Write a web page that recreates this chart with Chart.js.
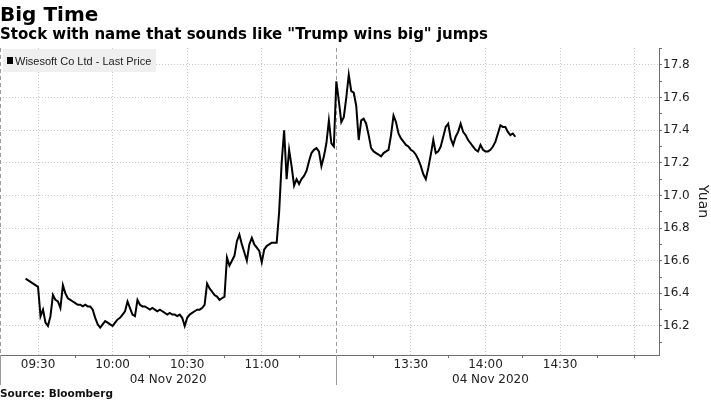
<!DOCTYPE html>
<html>
<head>
<meta charset="utf-8">
<title>Big Time</title>
<script src="https://cdn.jsdelivr.net/npm/chart.js@4/dist/chart.umd.min.js"></script>
<style>
  html, body { margin: 0; padding: 0; background: #fff; }
  #chart { display: block; }
</style>
</head>
<body>
<canvas id="chart" width="711" height="400"></canvas>
<script>
// Wisesoft Co Ltd, 04 Nov 2020, one price per minute (09:25 is the opening auction)
var times = [
    '09:25',
    '09:30', '09:31', '09:32', '09:33', '09:34', '09:35', '09:36', '09:37', '09:38', '09:39',
    '09:40', '09:41', '09:42', '09:43', '09:44', '09:45', '09:46', '09:47', '09:48', '09:49',
    '09:50', '09:51', '09:52', '09:53', '09:54', '09:55', '09:56', '09:57', '09:58', '09:59',
    '10:00', '10:01', '10:02', '10:03', '10:04', '10:05', '10:06', '10:07', '10:08', '10:09',
    '10:10', '10:11', '10:12', '10:13', '10:14', '10:15', '10:16', '10:17', '10:18', '10:19',
    '10:20', '10:21', '10:22', '10:23', '10:24', '10:25', '10:26', '10:27', '10:28', '10:29',
    '10:30', '10:31', '10:32', '10:33', '10:34', '10:35', '10:36', '10:37', '10:38', '10:39',
    '10:40', '10:41', '10:42', '10:43', '10:44', '10:45', '10:46', '10:47', '10:48', '10:49',
    '10:50', '10:51', '10:52', '10:53', '10:54', '10:55', '10:56', '10:57', '10:58', '10:59',
    '11:00', '11:01', '11:02', '11:03', '11:04', '11:05', '11:06', '11:07', '11:08', '11:09',
    '11:10', '11:11', '11:12', '11:13', '11:14', '11:15', '11:16', '11:17', '11:18', '11:19',
    '11:20', '11:21', '11:22', '11:23', '11:24', '11:25', '11:26', '11:27', '11:28', '11:29',
    '13:00', '13:01', '13:02', '13:03', '13:04', '13:05', '13:06', '13:07', '13:08', '13:09',
    '13:10', '13:11', '13:12', '13:13', '13:14', '13:15', '13:16', '13:17', '13:18', '13:19',
    '13:20', '13:21', '13:22', '13:23', '13:24', '13:25', '13:26', '13:27', '13:28', '13:29',
    '13:30', '13:31', '13:32', '13:33', '13:34', '13:35', '13:36', '13:37', '13:38', '13:39',
    '13:40', '13:41', '13:42', '13:43', '13:44', '13:45', '13:46', '13:47', '13:48', '13:49',
    '13:50', '13:51', '13:52', '13:53', '13:54', '13:55', '13:56', '13:57', '13:58', '13:59',
    '14:00', '14:01', '14:02', '14:03', '14:04', '14:05', '14:06', '14:07', '14:08', '14:09',
    '14:10', '14:11', '14:12'
];

var prices = [
    16.49,
    16.44, 16.26, 16.30, 16.22, 16.20, 16.26, 16.39, 16.36, 16.35, 16.31,
    16.45, 16.40, 16.37, 16.36, 16.35, 16.34, 16.33, 16.33, 16.32, 16.33,
    16.32, 16.32, 16.30, 16.25, 16.21, 16.19, 16.21, 16.23, 16.22, 16.21,
    16.20, 16.22, 16.24, 16.25, 16.27, 16.29, 16.35, 16.31, 16.27, 16.26,
    16.36, 16.33, 16.32, 16.32, 16.31, 16.30, 16.31, 16.30, 16.29, 16.30,
    16.29, 16.28, 16.27, 16.28, 16.27, 16.27, 16.26, 16.27, 16.25, 16.20,
    16.25, 16.27, 16.28, 16.29, 16.30, 16.30, 16.31, 16.33, 16.46, 16.43,
    16.41, 16.39, 16.38, 16.36, 16.37, 16.38, 16.62, 16.57, 16.60, 16.63,
    16.72, 16.76, 16.70, 16.65, 16.60, 16.70, 16.74, 16.70, 16.68, 16.66,
    16.59, 16.67, 16.69, 16.70, 16.71, 16.71, 16.71, 16.90, 17.20, 17.40,
    17.10, 17.28, 17.18, 17.06, 17.10, 17.07, 17.10, 17.12, 17.15, 17.21,
    17.26, 17.28, 17.29, 17.27, 17.18, 17.24, 17.32, 17.46, 17.32, 17.30,
    17.70, 17.58, 17.45, 17.48, 17.60, 17.74, 17.64, 17.63, 17.55, 17.34,
    17.46, 17.47, 17.44, 17.37, 17.29, 17.27, 17.26, 17.25, 17.24, 17.26,
    17.27, 17.28, 17.37, 17.49, 17.45, 17.38, 17.35, 17.33, 17.31, 17.30,
    17.28, 17.27, 17.25, 17.22, 17.18, 17.13, 17.10, 17.17, 17.25, 17.34,
    17.26, 17.27, 17.30, 17.36, 17.42, 17.44, 17.35, 17.31, 17.36, 17.39,
    17.44, 17.39, 17.37, 17.34, 17.32, 17.30, 17.28, 17.27, 17.31, 17.28,
    17.27, 17.27, 17.28, 17.30, 17.33, 17.38, 17.43, 17.42, 17.42, 17.39,
    17.37, 17.38, 17.36
];

var xLabelTimes = ['09:30', '10:00', '10:30', '11:00', '13:30', '14:00', '14:30'];
var xMinorTimes = ['09:45', '10:15', '10:45', '11:15', '13:15', '13:45', '14:15', '14:45', '15:00'];
var yLabelValues = [16.2, 16.4, 16.6, 16.8, 17.0, 17.2, 17.4, 17.6, 17.8];
var yMinorValues = [16.1, 16.3, 16.5, 16.7, 16.9, 17.1, 17.3, 17.5, 17.7, 17.9];
var dateLabels = ['04 Nov 2020', '04 Nov 2020'];

// trading minutes since 09:30, lunch break (11:30-13:00) removed
function toAxis(t) {
    var p = t.split(':').map(Number);
    var mins = p[0] * 60 + p[1];
    return mins < 12 * 60 ? mins - 570 : mins - 780 + 120;
}

var xLabelPos = xLabelTimes.map(toAxis);
var xGridPos = xLabelPos.concat([toAxis('15:00')]);
var xAllTicks = xLabelPos.concat(xMinorTimes.map(toAxis)).sort(function (a, b) { return a - b; });
var yAllTicks = yLabelValues.concat(yMinorValues).sort(function (a, b) { return a - b; });

function isYLabel(v) {
    return yLabelValues.some(function (l) { return Math.abs(l - v) < 0.001; });
}

var GRID = '#c9c9c9';
var AXIS = '#6e6e6e';

var extras = {
    id: 'extras',
    beforeDatasetsDraw: function (chart) {
        var ctx = chart.ctx, a = chart.chartArea, x = chart.scales.x;
        var xs = [a.left + 0.5, Math.round(x.getPixelForValue(toAxis('13:00'))) + 0.5];
        ctx.save();
        ctx.strokeStyle = '#9c9c9c';
        ctx.lineWidth = 1;
        xs.forEach(function (px) {
            ctx.setLineDash([4, 3]);
            ctx.beginPath(); ctx.moveTo(px, a.top); ctx.lineTo(px, a.bottom); ctx.stroke();
            ctx.setLineDash([]);
            ctx.beginPath(); ctx.moveTo(px, a.bottom); ctx.lineTo(px, a.bottom + 30); ctx.stroke();
        });
        ctx.restore();
    },
    afterDraw: function (chart) {
        var ctx = chart.ctx, a = chart.chartArea, x = chart.scales.x;
        ctx.save();
        // legend box
        ctx.fillStyle = '#efefef';
        ctx.fillRect(a.left + 3, a.top + 1, 153, 23);
        ctx.fillStyle = '#000';
        ctx.fillRect(a.left + 7, a.top + 9, 6, 7);
        ctx.fillStyle = '#222';
        ctx.font = '11px "Liberation Sans"';
        ctx.textBaseline = 'alphabetic';
        ctx.textAlign = 'left';
        ctx.fillText(chart.data.datasets[0].label, a.left + 15, a.top + 17);
        // date under each session
        ctx.font = '12px "DejaVu Sans"';
        ctx.textAlign = 'center';
        var brk = x.getPixelForValue(toAxis('13:00'));
        var centers = [(a.left + brk) / 2, x.getPixelForValue(toAxis('14:02'))];
        dateLabels.forEach(function (d, i) { ctx.fillText(d, centers[i], a.bottom + 28); });
        // source
        ctx.textAlign = 'left';
        ctx.fillStyle = '#111';
        ctx.font = 'bold 10.5px "DejaVu Sans"';
        ctx.fillText('Source: Bloomberg', 0, 397);
        ctx.restore();
    }
};

Chart.defaults.font.family = '"DejaVu Sans"';
Chart.defaults.color = '#222';

var ctx = document.getElementById('chart').getContext('2d');
var chart = new Chart(ctx, {
    type: 'line',
    data: {
        datasets: [{
            label: 'Wisesoft Co Ltd - Last Price',
            data: times.map(function (t, i) { return { x: toAxis(t), y: prices[i] }; }),
            borderColor: '#000',
            borderWidth: 2,
            pointRadius: 0,
            tension: 0,
            fill: false
        }]
    },
    options: {
        responsive: false,
        animation: false,
        layout: { padding: 0 },
        plugins: {
            legend: { display: false },
            tooltip: { enabled: false },
            title: {
                display: true,
                text: 'Big Time',
                align: 'start',
                color: '#000',
                font: { size: 20, weight: 'bold', lineHeight: 1 },
                padding: { top: 6, bottom: 0 }
            },
            subtitle: {
                display: true,
                text: 'Stock with name that sounds like "Trump wins big" jumps',
                align: 'start',
                color: '#000',
                font: { size: 15, weight: 'bold' },
                padding: { top: 0, bottom: 4 }
            }
        },
        scales: {
            x: {
                type: 'linear',
                min: -15.3,
                max: 249.8,
                afterBuildTicks: function (s) {
                    s.ticks = xAllTicks.map(function (v) { return { value: v }; });
                },
                afterFit: function (s) { s.height = 45; },
                ticks: {
                    autoSkip: false,
                    maxRotation: 0,
                    padding: 0,
                    color: '#222',
                    font: { size: 12 },
                    callback: function (v) {
                        var i = xLabelPos.indexOf(v);
                        return i >= 0 ? xLabelTimes[i] : '';
                    }
                },
                grid: {
                    color: function (c) {
                        return c.tick && xGridPos.indexOf(c.tick.value) >= 0 ? GRID : 'rgba(0,0,0,0)';
                    },
                    tickColor: function (c) {
                        return c.tick && xLabelPos.indexOf(c.tick.value) < 0 ? AXIS : 'rgba(0,0,0,0)';
                    },
                    tickLength: 3,
                    tickWidth: 1,
                    tickBorderDash: []
                },
                border: { color: AXIS, width: 1, dash: [1, 2] }
            },
            y: {
                position: 'right',
                min: 16.022,
                max: 17.904,
                afterBuildTicks: function (s) {
                    s.ticks = yAllTicks.map(function (v) { return { value: v }; });
                },
                afterFit: function (s) { s.width = 52; },
                ticks: {
                    autoSkip: false,
                    padding: 1,
                    color: '#222',
                    font: { size: 12 },
                    callback: function (v) { return isYLabel(v) ? v.toFixed(1) : ''; }
                },
                grid: {
                    color: function (c) {
                        return c.tick && isYLabel(c.tick.value) ? GRID : 'rgba(0,0,0,0)';
                    },
                    tickColor: AXIS,
                    tickLength: 3,
                    tickWidth: 1,
                    tickBorderDash: []
                },
                border: { color: AXIS, width: 1, dash: [1, 2] },
                title: {
                    display: true,
                    text: 'Yuan',
                    color: '#222',
                    font: { size: 14 },
                    padding: 0
                }
            }
        }
    },
    plugins: [extras]
});
</script>
</body>
</html>
